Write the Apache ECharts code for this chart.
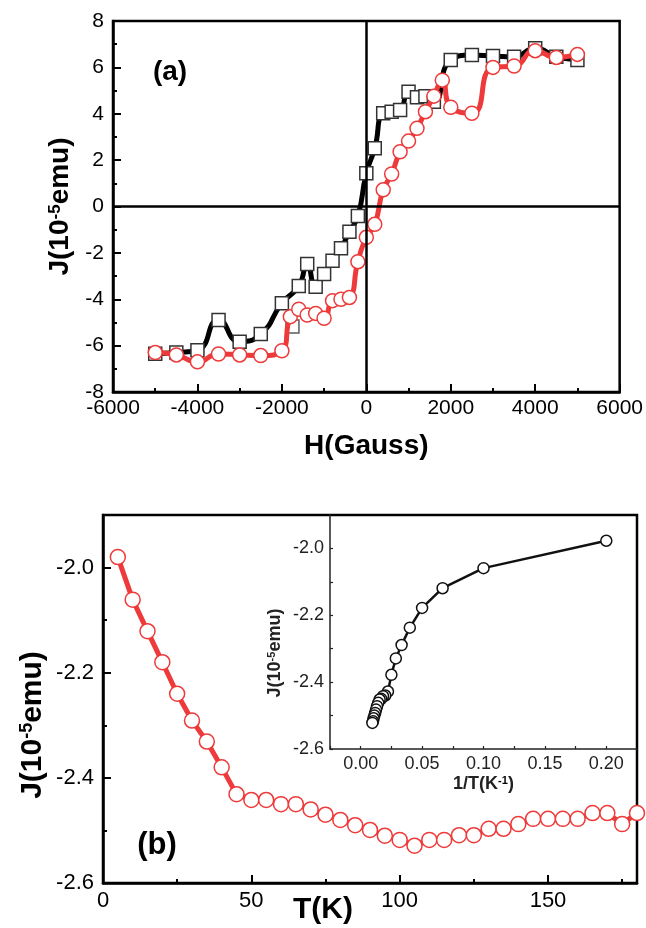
<!DOCTYPE html>
<html><head><meta charset="utf-8">
<script src="https://cdn.jsdelivr.net/npm/echarts@6/dist/echarts.min.js"></script>
<style>html,body{margin:0;padding:0;background:#fff}#c{width:646px;height:928px}</style>
</head><body><div id="c"></div>
<script>
// ---- Panel (a): hysteresis loops ----
const hBlack = [-5000,-4500,-4000,-3500,-3000,-2500,-2000,-1600,-1400,-1200,-1000,-800,-600,-400,-200,0,200,400,600,800,1000,1200,1400,1600,2000,2500,3000,3500,4000,4500,5000];
const jBlack = [-6.35,-6.30,-6.20,-4.89,-5.83,-5.50,-4.17,-3.43,-2.48,-3.46,-2.91,-2.34,-1.80,-1.09,-0.41,1.43,2.51,4.02,4.09,4.16,4.95,4.71,4.76,4.52,6.32,6.53,6.49,6.46,6.82,6.46,6.32];
const hBlackExtra = [-1750];
const jBlackExtra = [-5.18];
const hRed = [-5000,-4500,-4000,-3500,-3000,-2500,-2000,-1800,-1600,-1400,-1200,-1000,-800,-600,-400,-200,0,200,400,600,800,1000,1200,1400,1600,1800,2000,2500,3000,3500,4000,4500,5000];
const jRed = [-6.30,-6.40,-6.70,-6.36,-6.40,-6.43,-6.22,-4.75,-4.43,-4.68,-4.61,-4.82,-4.06,-4.00,-3.92,-2.38,-1.33,-0.77,0.72,1.40,2.36,2.82,3.37,4.09,4.76,5.45,4.28,4.02,6.00,6.06,6.72,6.43,6.56];
const hTicks = [-6000,-4000,-2000,0,2000,4000,6000];
const jTicksA = [-8,-6,-4,-2,0,2,4,6,8];

// ---- Panel (b): J vs T ----
const tempK = [5,10,15,20,25,30,35,40,45,50,55,60,65,70,75,80,85,90,95,100,105,110,115,120,125,130,135,140,145,150,155,160,165,170,175,180];
const jTemp = [-1.980,-2.061,-2.121,-2.180,-2.240,-2.291,-2.331,-2.380,-2.431,-2.442,-2.442,-2.450,-2.450,-2.460,-2.470,-2.480,-2.490,-2.499,-2.510,-2.518,-2.529,-2.518,-2.518,-2.509,-2.509,-2.497,-2.497,-2.488,-2.478,-2.478,-2.478,-2.478,-2.467,-2.467,-2.488,-2.467];
const tTicks = [0,50,100,150];
const jTicksB = [-2.6,-2.4,-2.2,-2.0];

// ---- Inset: J vs 1/T ----
const invT = [0.2,0.1,0.0667,0.05,0.04,0.0333,0.0286,0.025,0.0222,0.02,0.0182,0.0167,0.0154,0.0143,0.0133,0.0125,0.0118,0.0111,0.0105,0.01,0.0095];
const jInv = [-1.977,-2.059,-2.119,-2.178,-2.237,-2.289,-2.329,-2.378,-2.428,-2.440,-2.442,-2.450,-2.452,-2.462,-2.472,-2.482,-2.492,-2.500,-2.508,-2.517,-2.522];
const invTicks = [0.00,0.05,0.10,0.15,0.20];
const jTicksInset = [-2.6,-2.4,-2.2,-2.0];

const zip = (a, b) => a.map((v, i) => [v, b[i]]);
const inList = (list, v) => list.some(t => Math.abs(t - v) < 1e-6);
const FONT = 'Liberation Sans, Arial, sans-serif';
const RED = '#ee3a3a';

function baseAxis(extra) {
  return Object.assign({
    type: 'value',
    splitLine: { show: false },
    axisLine: { show: true, onZero: false, lineStyle: { color: '#000', width: 2.5 } },
    axisTick: { show: true, inside: true, length: 8, lineStyle: { color: '#000', width: 2 } },
    axisLabel: { color: '#000', fontSize: 21, fontFamily: FONT },
  }, extra);
}
function minorAxis(extra) {
  return Object.assign({
    type: 'value',
    splitLine: { show: false },
    axisLine: { show: false, onZero: false },
    axisLabel: { show: false },
    axisTick: { show: true, inside: true, length: 4, lineStyle: { color: '#000', width: 2 } },
  }, extra);
}
const supRich = (size) => ({ sup: { fontSize: size, fontWeight: 'bold', fontFamily: FONT, verticalAlign: 'top', color: '#000' } });

const chart = echarts.init(document.getElementById('c'), null, { renderer: 'canvas' });
chart.setOption({
  animation: false,
  backgroundColor: '#fff',
  grid: [
    { left: 113, top: 21, width: 507, height: 371, show: true, borderColor: '#000', borderWidth: 2.5, backgroundColor: 'transparent' },
    { left: 103, top: 515, width: 534, height: 368, show: true, borderColor: '#000', borderWidth: 2.5, backgroundColor: 'transparent' },
    { left: 330, top: 515, width: 307, height: 234, show: false }
  ],
  xAxis: [
    baseAxis({ gridIndex: 0, position: 'bottom', min: -6000, max: 6000, interval: 2000,
      minorTick: { show: true, splitNumber: 2, length: 4, lineStyle: { color: '#000', width: 2 } },
      axisLabel: { color: '#000', fontSize: 21, fontFamily: FONT, margin: 6, formatter: v => inList(hTicks, v) ? String(v) : '' },
      name: 'H(Gauss)', nameLocation: 'middle', nameGap: 40,
      nameTextStyle: { fontSize: 28, fontWeight: 'bold', fontFamily: FONT, color: '#000' } }),
    baseAxis({ gridIndex: 1, position: 'bottom', min: 0, max: 180, interval: 50,
      axisLabel: { color: '#000', fontSize: 22, fontFamily: FONT, margin: 7, showMaxLabel: false, formatter: v => inList(tTicks, v) ? String(v) : '' } }),
    minorAxis({ gridIndex: 1, position: 'bottom', min: 0, max: 180, interval: 25 }),
    {
      type: 'value', gridIndex: 2, position: 'bottom', min: -0.025, max: 0.225, interval: 0.025,
      splitLine: { show: false },
      axisLine: { show: true, onZero: false, lineStyle: { color: '#222', width: 1.5 } },
      axisTick: { show: true, inside: true, length: 3, lineStyle: { color: '#222', width: 1.2 } },
      axisLabel: { color: '#222', fontSize: 18, fontFamily: FONT, margin: 6, showMaxLabel: false,
        formatter: v => inList(invTicks, v) ? v.toFixed(2) : '' },
      name: '1/T(K{sup|-1})', nameLocation: 'middle', nameGap: 26,
      nameTextStyle: { fontSize: 18, fontWeight: 'bold', fontFamily: FONT, color: '#222', rich: supRich(11) }
    }
  ],
  yAxis: [
    baseAxis({ gridIndex: 0, position: 'left', min: -8, max: 8, interval: 2,
      minorTick: { show: true, splitNumber: 2, length: 4, lineStyle: { color: '#000', width: 2 } },
      axisLabel: { color: '#000', fontSize: 21, fontFamily: FONT, margin: 9, formatter: v => inList(jTicksA, v) ? String(v) : '' },
      name: 'J(10{sup|-5}emu)', nameLocation: 'middle', nameGap: 34,
      nameTextStyle: { fontSize: 28, fontWeight: 'bold', fontFamily: FONT, color: '#000', rich: supRich(17) } }),
    baseAxis({ gridIndex: 1, position: 'left', min: -2.6, max: -1.9, interval: 0.2,
      axisLabel: { color: '#000', fontSize: 22, fontFamily: FONT, margin: 9, showMaxLabel: false, formatter: v => inList(jTicksB, v) ? v.toFixed(1) : '' } }),
    minorAxis({ gridIndex: 1, position: 'left', min: -2.6, max: -1.9, interval: 0.1 }),
    {
      type: 'value', gridIndex: 2, position: 'left', min: -2.6, max: -1.9, interval: 0.1,
      splitLine: { show: false },
      axisLine: { show: true, onZero: false, lineStyle: { color: '#222', width: 1.5 } },
      axisTick: { show: true, inside: true, length: 3, lineStyle: { color: '#222', width: 1.2 } },
      axisLabel: { color: '#222', fontSize: 18, fontFamily: FONT, margin: 6, showMaxLabel: false,
        formatter: v => inList(jTicksInset, v) ? v.toFixed(1) : '' }
    }
  ],
  series: [
    { type: 'line', name: 'zero', xAxisIndex: 0, yAxisIndex: 0, data: [], z: 1,
      markLine: { silent: true, symbol: ['none', 'none'], label: { show: false },
        lineStyle: { color: '#000', width: 2.5, type: 'solid' }, data: [{ xAxis: 0 }, { yAxis: 0 }] } },
    { type: 'line', name: 'up', xAxisIndex: 0, yAxisIndex: 0, data: zip(hBlack, jBlack), smooth: 0.55, z: 2,
      lineStyle: { color: '#000', width: 5 }, symbol: 'rect', symbolSize: 13,
      itemStyle: { color: '#fff', borderColor: '#333', borderWidth: 1.5 } },
    { type: 'scatter', name: 'upExtra', xAxisIndex: 0, yAxisIndex: 0, data: zip(hBlackExtra, jBlackExtra), z: 2,
      symbol: 'rect', symbolSize: 13, itemStyle: { color: '#fff', borderColor: '#333', borderWidth: 1.5 } },
    { type: 'line', name: 'down', xAxisIndex: 0, yAxisIndex: 0, data: zip(hRed, jRed), smooth: 0.55, z: 3,
      lineStyle: { color: RED, width: 5 }, symbol: 'circle', symbolSize: 14,
      itemStyle: { color: '#fff', borderColor: RED, borderWidth: 1.5 } },
    { type: 'line', name: 'JT', xAxisIndex: 1, yAxisIndex: 1, data: zip(tempK, jTemp), z: 3,
      lineStyle: { color: RED, width: 5 }, symbol: 'circle', symbolSize: 15,
      itemStyle: { color: '#fff', borderColor: RED, borderWidth: 1.5 } },
    { type: 'line', name: 'Jinv', xAxisIndex: 3, yAxisIndex: 3, data: zip(invT, jInv), z: 3,
      lineStyle: { color: '#111', width: 2.5 }, symbol: 'circle', symbolSize: 11,
      itemStyle: { color: '#fff', borderColor: '#111', borderWidth: 1.5 } }
  ],
  graphic: [
    { type: 'text', x: 170, y: 72, style: { text: '(a)', fontSize: 28, fontWeight: 'bold', fontFamily: FONT, fill: '#000', align: 'center', verticalAlign: 'middle' } },
    { type: 'text', x: 157, y: 845, style: { text: '(b)', fontSize: 31, fontWeight: 'bold', fontFamily: FONT, fill: '#000', align: 'center', verticalAlign: 'middle' } },
    { type: 'text', x: 323, y: 910, style: { text: 'T(K)', fontSize: 30, fontWeight: 'bold', fontFamily: FONT, fill: '#000', align: 'center', verticalAlign: 'middle' } },
    { type: 'text', x: 33, y: 725, rotation: Math.PI / 2,
      style: { text: 'J(10{sup|-5}emu)', fontSize: 30, fontWeight: 'bold', fontFamily: FONT, fill: '#000', align: 'center', verticalAlign: 'middle',
        rich: { sup: { fontSize: 18, fontWeight: 'bold', fontFamily: FONT, fill: '#000', verticalAlign: 'top' } } } },
    { type: 'text', x: 275, y: 653, rotation: Math.PI / 2,
      style: { text: 'J(10{sup|-5}emu)', fontSize: 18, fontWeight: 'bold', fontFamily: FONT, fill: '#222', align: 'center', verticalAlign: 'middle',
        rich: { sup: { fontSize: 11, fontWeight: 'bold', fontFamily: FONT, fill: '#222', verticalAlign: 'top' } } } }
  ]
});
</script></body></html>
